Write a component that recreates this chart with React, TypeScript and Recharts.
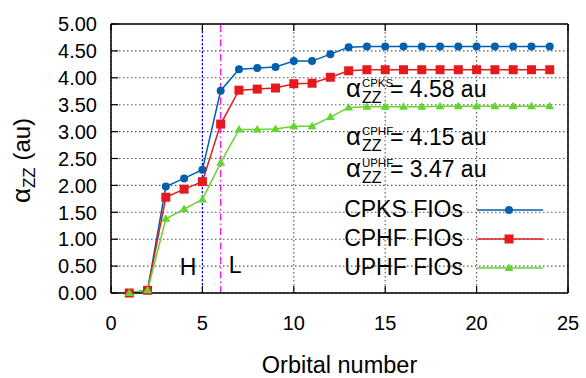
import {
  LineChart,
  Line,
  XAxis,
  YAxis,
  CartesianGrid,
  ReferenceLine,
  ReferenceDot,
  Legend,
} from 'recharts';

// orbital index on the x axis
const orbitals = [1, 2, 3, 4, 5, 6, 7, 8, 9, 10, 11, 12, 13, 14, 15, 16, 17, 18, 19, 20, 21, 22, 23, 24];

// cumulative alpha_zz (au) per method
const cpks = [0, 0.05, 1.98, 2.13, 2.29, 3.76, 4.16, 4.18, 4.2, 4.31, 4.31, 4.44, 4.57, 4.58, 4.58, 4.58, 4.58, 4.58, 4.58, 4.58, 4.58, 4.58, 4.58, 4.58];
const cphf = [0, 0.05, 1.78, 1.93, 2.07, 3.14, 3.77, 3.79, 3.81, 3.89, 3.9, 4.01, 4.13, 4.15, 4.15, 4.15, 4.15, 4.15, 4.15, 4.15, 4.15, 4.15, 4.15, 4.15];
const uphf = [0, 0.05, 1.38, 1.56, 1.74, 2.42, 3.04, 3.04, 3.05, 3.1, 3.1, 3.27, 3.45, 3.46, 3.46, 3.46, 3.46, 3.47, 3.47, 3.47, 3.47, 3.47, 3.47, 3.47];

const xTicks = [0, 5, 10, 15, 20, 25];
const yTicks = [0, 0.5, 1, 1.5, 2, 2.5, 3, 3.5, 4, 4.5, 5];

const homo = 5;
const lumo = 6;

const seriesOrder = ['cpks', 'cphf', 'uphf'];

const data = orbitals.map((n, i) => ({ n, cpks: cpks[i], cphf: cphf[i], uphf: uphf[i] }));

const FONT = '"Liberation Sans", Arial, Helvetica, sans-serif';
const BLUE = '#0060ad';
const RED = '#e41a1c';
const GREEN = '#63d52e';

const colors: Record<string, string> = { cpks: BLUE, cphf: RED, uphf: GREEN };

// marker shapes: circle / square / triangle
const Marker = ({ kind, cx, cy }: { kind: string; cx: number; cy: number }) => {
  const c = colors[kind];
  if (kind === 'cphf') return <rect x={cx - 4.5} y={cy - 4.5} width={9} height={9} fill={c} />;
  if (kind === 'uphf')
    return <polygon points={`${cx},${cy - 4.5} ${cx + 4.5},${cy + 3} ${cx - 4.5},${cy + 3}`} fill={c} />;
  return <circle cx={cx} cy={cy} r={4} fill={c} />;
};

const dotFor = (kind: string) => (p: any) =>
  p.cx == null ? <g key={p.index} /> : <Marker key={p.index} kind={kind} cx={p.cx} cy={p.cy} />;

const BottomTick = ({ x, y, payload }: any) => (
  <g>
    <line x1={x} x2={x} y1={y} y2={y - 7} stroke="#000" strokeWidth={1.2} />
    <text x={x} y={y + 37} textAnchor="middle" fontSize={20} fontFamily={FONT} fill="#000">
      {payload.value}
    </text>
  </g>
);

const TopTick = ({ x, y }: any) => <line x1={x} x2={x} y1={y} y2={y + 7} stroke="#000" strokeWidth={1.2} />;

const LeftTick = ({ x, y, payload }: any) => (
  <g>
    <line x1={x} x2={x + 7} y1={y} y2={y} stroke="#000" strokeWidth={1.2} />
    <text x={x - 14} y={y} dy="0.36em" textAnchor="end" fontSize={20} fontFamily={FONT} fill="#000">
      {Number(payload.value).toFixed(2)}
    </text>
  </g>
);

const RightTick = ({ x, y }: any) => <line x1={x} x2={x - 7} y1={y} y2={y} stroke="#000" strokeWidth={1.2} />;

const YTitle = ({ viewBox }: any) => {
  const cx = 30;
  const cy = viewBox.y + viewBox.height / 2 + 2;
  return (
    <text
      x={cx}
      y={cy}
      textAnchor="middle"
      transform={`rotate(-90, ${cx}, ${cy})`}
      fontFamily={FONT}
      fontSize={24}
      fill="#000"
    >
      <tspan fontSize={26}>α</tspan>
      <tspan fontSize={17} dy={5}>ZZ</tspan>
      <tspan dy={-5}> (au)</tspan>
    </text>
  );
};

const XTitle = ({ viewBox }: any) => (
  <text
    x={viewBox.x + viewBox.width / 2}
    y={viewBox.y + 80}
    textAnchor="middle"
    fontFamily={FONT}
    fontSize={23.5}
    fill="#000"
  >
    Orbital number
  </text>
);

// α_ZZ^method = value au
const AlphaNote = ({ viewBox, tag, value }: any) => {
  const x = viewBox.x;
  const y = viewBox.y;
  return (
    <g fontFamily={FONT} fill="#000">
      <text x={x} y={y} fontSize={26}>α</text>
      <text x={x + 16} y={y + 6} fontSize={16}>ZZ</text>
      <text x={x + 16} y={y - 10} fontSize={11.5}>{tag}</text>
      <text x={x + 44} y={y} fontSize={23}>= {value} au</text>
    </g>
  );
};

const notes = [
  { tag: 'CPKS', series: cpks, at: [12.85, 3.64] },
  { tag: 'CPHF', series: cphf, at: [12.85, 2.75] },
  { tag: 'UPHF', series: uphf, at: [12.85, 2.16] },
];

const LegendBox = ({ payload }: any) => {
  const items = [...(payload || [])].sort(
    (a: any, b: any) => seriesOrder.indexOf(String(a.dataKey)) - seriesOrder.indexOf(String(b.dataKey))
  );
  return (
    <div style={{ fontFamily: FONT, fontSize: 23, color: '#000' }}>
      {items.map((item: any) => {
        const key = String(item.dataKey);
        return (
          <div
            key={key}
            style={{ display: 'flex', alignItems: 'center', justifyContent: 'flex-end', height: 29 }}
          >
            <span style={{ lineHeight: '29px' }}>{item.value}</span>
            <svg width={80} height={20} style={{ display: 'block' }}>
              <line x1={14} x2={80} y1={10} y2={10} stroke={colors[key]} strokeWidth={1.5} />
              <Marker kind={key} cx={46} cy={10} />
            </svg>
          </div>
        );
      })}
    </div>
  );
};

export default function App() {
  return (
    <>
      <style>{'body{margin:0}'}</style>
      <LineChart width={586} height={378} data={data} margin={{ top: 0, right: 0, bottom: 0, left: 0 }}>
        <CartesianGrid stroke="#555" strokeDasharray="1.5 2.5" strokeWidth={1.1} />
        <XAxis
          dataKey="n"
          type="number"
          domain={[0, 25]}
          ticks={xTicks}
          height={85}
          axisLine={{ stroke: '#000', strokeWidth: 1.5 }}
          tickLine={false}
          tickSize={0}
          tickMargin={0}
          tick={<BottomTick />}
          interval={0}
          label={{ content: XTitle }}
        />
        <XAxis
          xAxisId="top"
          orientation="top"
          dataKey="n"
          type="number"
          domain={[0, 25]}
          ticks={xTicks}
          height={24}
          axisLine={{ stroke: '#000', strokeWidth: 1.5 }}
          tickLine={false}
          tickSize={0}
          tickMargin={0}
          tick={<TopTick />}
          interval={0}
        />
        <YAxis
          type="number"
          domain={[0, 5]}
          ticks={yTicks}
          width={111}
          axisLine={{ stroke: '#000', strokeWidth: 1.5 }}
          tickLine={false}
          tickSize={0}
          tickMargin={0}
          tick={<LeftTick />}
          interval={0}
          label={{ content: YTitle }}
        />
        <YAxis
          yAxisId="right"
          orientation="right"
          type="number"
          domain={[0, 5]}
          ticks={yTicks}
          width={18}
          axisLine={{ stroke: '#000', strokeWidth: 1.5 }}
          tickLine={false}
          tickSize={0}
          tickMargin={0}
          tick={<RightTick />}
          interval={0}
        />
        <ReferenceLine
          x={homo}
          stroke="#0000ff"
          strokeWidth={1.2}
          strokeDasharray="2 2"
          label={{ value: 'H', position: 'insideBottomRight', offset: 6, dy: -12, fontSize: 23, fontFamily: FONT, fill: '#000' }}
        />
        <ReferenceLine
          x={lumo}
          stroke="#ff00ff"
          strokeWidth={1.2}
          strokeDasharray="7 3 1.5 3"
          label={{ value: 'L', position: 'insideBottomLeft', offset: 8, dy: -12, fontSize: 23, fontFamily: FONT, fill: '#000' }}
        />
        <Line
          name="CPKS FIOs"
          dataKey="cpks"
          stroke={BLUE}
          strokeWidth={1.5}
          dot={dotFor('cpks')}
          isAnimationActive={false}
        />
        <Line
          name="CPHF FIOs"
          dataKey="cphf"
          stroke={RED}
          strokeWidth={1.5}
          dot={dotFor('cphf')}
          isAnimationActive={false}
        />
        <Line
          name="UPHF FIOs"
          dataKey="uphf"
          stroke={GREEN}
          strokeWidth={1.5}
          dot={dotFor('uphf')}
          isAnimationActive={false}
        />
        {notes.map((nt) => (
          <ReferenceDot
            key={nt.tag}
            x={nt.at[0]}
            y={nt.at[1]}
            r={0}
            stroke="none"
            fill="none"
            label={(p: any) => (
              <AlphaNote {...p} tag={nt.tag} value={nt.series[nt.series.length - 1].toFixed(2)} />
            )}
          />
        ))}
        <Legend
          layout="vertical"
          align="center"
          verticalAlign="middle"
          content={<LegendBox />}
          wrapperStyle={{ left: 263, top: 195, width: 280 }}
        />
      </LineChart>
    </>
  );
}
